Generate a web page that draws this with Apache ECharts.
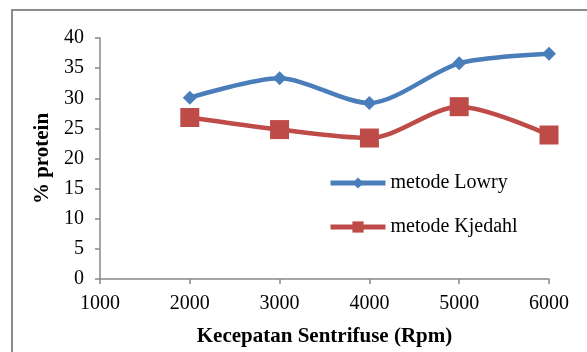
<!DOCTYPE html>
<html><head><meta charset="utf-8">
<script src="https://cdn.jsdelivr.net/npm/echarts@6/dist/echarts.min.js"></script>
<style>html,body{margin:0;padding:0;background:#fff}#c{width:587px;height:352px}</style>
</head><body><div id="c"></div>
<script>
const speeds = [2000, 3000, 4000, 5000, 6000];
const lowry = [30.1, 33.3, 29.2, 35.8, 37.4];
const kjedahl = [26.8, 24.8, 23.4, 28.6, 23.9];
const seriesNames = ['metode Lowry', 'metode Kjedahl'];

const chart = echarts.init(document.getElementById('c'));
const font = '"Liberation Serif", "Times New Roman", serif';
const axisGray = '#888888';
chart.setOption({
  animation: false,
  backgroundColor: '#ffffff',
  graphic: [{
    type: 'rect', shape: {x: 12, y: 10, width: 600, height: 360},
    style: {fill: 'none', stroke: '#8c8c8c', lineWidth: 2}, silent: true
  }],
  grid: {left: 100, right: 38, top: 38, bottom: 70},
  legend: {
    orient: 'vertical', left: 323, top: 168, itemGap: 24, padding: 5,
    itemWidth: 55, itemHeight: 14, itemGap: 24,
    lineStyle: {width: 5},
    textStyle: {fontFamily: font, fontSize: 20, color: '#000'},
    data: seriesNames
  },
  xAxis: {
    type: 'value', min: 1000, max: 6000, interval: 1000,
    name: 'Kecepatan Sentrifuse (Rpm)', nameLocation: 'middle', nameGap: 47,
    nameTextStyle: {fontFamily: font, fontSize: 21, fontWeight: 'bold', color: '#000'},
    axisLine: {lineStyle: {color: axisGray, width: 1.5}},
    axisTick: {show: true, length: 5, lineStyle: {color: axisGray, width: 1.5}},
    axisLabel: {fontFamily: font, fontSize: 20, color: '#000', margin: 15,
      formatter: v => String(v)},
    splitLine: {show: false}
  },
  yAxis: {
    type: 'value', min: 0, max: 40, interval: 5,
    name: '% protein', nameLocation: 'middle', nameGap: 47, nameRotate: 90,
    nameTextStyle: {fontFamily: font, fontSize: 21, fontWeight: 'bold', color: '#000'},
    axisLine: {show: true, lineStyle: {color: axisGray, width: 1.5}},
    axisTick: {show: true, length: 5, lineStyle: {color: axisGray, width: 1.5}},
    axisLabel: {fontFamily: font, fontSize: 20, color: '#000', margin: 16},
    splitLine: {show: false}
  },
  series: [
    {
      name: seriesNames[0], type: 'line', smooth: 0.28,
      data: speeds.map((s, i) => [s, lowry[i]]),
      symbol: 'diamond', symbolSize: 14,
      itemStyle: {color: '#4a7ebb'},
      lineStyle: {color: '#4a7ebb', width: 4.5}
    },
    {
      name: seriesNames[1], type: 'line', smooth: 0.3,
      data: speeds.map((s, i) => [s, kjedahl[i]]),
      symbol: 'rect', symbolSize: 19,
      itemStyle: {color: '#be4b48'},
      lineStyle: {color: '#be4b48', width: 4.5}
    }
  ]
});
</script></body></html>
